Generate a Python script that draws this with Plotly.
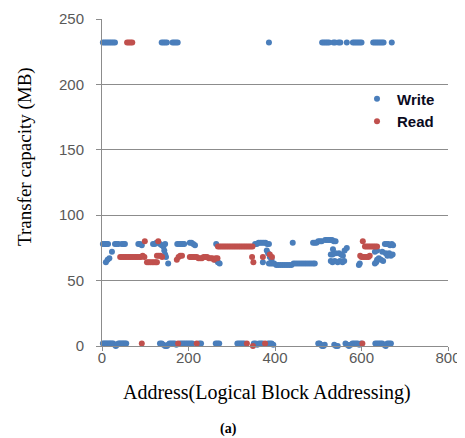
import plotly.graph_objects as go

# ---- data ----
write_top = [(2,232),(6,232),(10,232),(14,232),(18,232),(22,232),(26,232),(30,232),
             (138,232),(142,232),(146,232),(150,232),
             (163,232),(167,232),(171,232),(175,232),
             (386,232),
             (509,232),(513,232),(517,232),(521,232),(525,232),
             (535,232),(539,232),(547,232),(551,232),
             (566,232),
             (580,232),(584,232),(588,232),(592,232),(596,232),(600,232),
             (627,232),(631,232),(635,232),(639,232),(643,232),(647,232),(651,232),
             (670,232)]

write_mid = [(2,78),(5,78),(8,78),(11,78),(14,78),
             (30,78),(34,78),(38,78),(46,78),(50,78),(53,78),
             (84,78),(88,78),(92,77),
             (118,78),(122,78),(126,79),(134,78),(138,77),(142,76),(146,78),
             (144,73),(146,70),(148,68),
             (174,78),(178,78),(182,78),(186,78),(190,78),
             (203,79),(207,79),(211,78),(215,77),
             (264,78),(262,66),(268,64),(272,63),
             (354,78),(358,78),(362,79),(366,79),(370,79),(374,79),(378,79),(382,78),(386,78),
             (381,73),(384,71),(388,68),(392,66),
             (23,72),(9,64),(13,66),(17,67),
             (153,63),
             (372,64),(386,63),(390,63),(394,63),
             (398,63),(403,62),(408,62),(413,62),(418,62),(423,62),(428,62),(433,62),
             (438,62),(443,63),(448,63),(453,63),(458,63),(463,63),(468,63),(473,63),
             (478,63),(483,63),(488,63),(492,63),
             (441,79),
             (488,79),(492,79),(496,79),(500,80),(504,80),(508,80),
             (516,81),(520,81),(524,81),(528,81),(532,81),(536,80),(540,80),
             (529,70),(533,70),(540,71),(548,71),(553,70),(557,69),
             (529,65),(533,64),(538,65),(545,64),(550,65),(556,64),(560,65),
             (534,74),(561,73),(566,75),
             (596,63),(594,62),
             (654,78),(658,78),(662,78),(666,77),(670,78),(673,77),
             (631,72),(636,73),(648,72),(656,71),(664,71),(668,69),(672,70),(660,69),
             (636,66),(640,67),(645,66),(650,65),(631,63),(634,64)]

write_low = [(2,2),(5,2),(8,2),(11,2),(14,2),(17,2),(20,2),(23,2),(26,2),(29,1),(32,0),
             (35,1),(38,2),(41,2),(44,2),(47,2),(50,2),(53,2),(56,2),
             (134,2),(138,2),(142,1),(146,0),(150,0),(153,1),(156,2),(160,2),(164,2),
             (168,2),(172,1),(181,2),(185,2),(189,2),(193,2),(197,2),(201,2),(205,2),
             (209,2),(225,2),(229,2),
             (263,2),(267,2),(271,2),
             (313,2),(317,2),(321,2),(325,2),(329,2),
             (351,2),(355,2),(359,1),(363,2),(367,2),(371,2),
             (384,2),(388,2),(392,2),(396,1),(400,-1),
             (500,2),(503,2),(506,1),(509,0),(512,0),(515,1),
             (537,1),(541,0),(545,0),(550,-1),(554,-1),
             (563,2),(567,1),(571,0),(575,1),(579,2),(583,2),(587,2),(591,2),(595,1),(599,2),
             (632,2),(636,2),(640,2),(644,2),(648,2),(652,1),(656,0),(660,2),(664,2),(668,2)]

read_top = [(58,232),(62,232),(66,232),(70,232)]

read_mid = [(42,68),(46,68),(50,68),(54,68),(58,68),(62,68),(66,68),(70,68),(74,68),
            (78,68),(82,68),(86,68),(90,68),(94,69),(98,68),
            (99,80),(130,80),
            (104,64),(108,64),(112,64),(116,64),(120,64),(124,64),(127,64),
            (127,69),(131,69),(135,69),(139,68),
            (173,66),(177,68),(181,69),(185,69),
            (203,68),(207,68),(211,68),(215,68),(219,68),(223,67),(227,67),(231,67),
            (235,68),(239,68),(243,68),(247,67),(251,67),(255,67),(259,66),(263,67),(267,67),
            (268,76),(272,76),(276,76),(280,76),(284,76),(288,76),(292,76),(296,76),
            (300,76),(304,76),(308,76),(312,76),(316,76),(320,76),(324,76),(328,76),
            (332,76),(336,76),(340,76),(344,76),(348,76),
            (347,68),(350,64),(372,68),(393,68),(388,70),
            (603,80),(608,76),(612,76),(616,76),(620,76),(624,76),(628,76),(632,76),(636,76),
            (597,69),(600,68),(604,68),(608,68),(612,68),(616,68),(619,69)]

read_low = [(92,2),(176,2),(219,2),(335,2),(349,0),(377,2),(602,2)]

x_ticks = [0, 200, 400, 600, 800]
y_ticks = [0, 50, 100, 150, 200, 250]

write_pts = write_top + write_mid + write_low
read_pts = read_top + read_mid + read_low

fig = go.Figure()
fig.add_trace(go.Scatter(
    x=[p[0] for p in write_pts], y=[p[1] for p in write_pts],
    mode="markers", name="<b>Write</b>", cliponaxis=False,
    marker=dict(color="#4A7EBB", size=6, line=dict(width=0))))
fig.add_trace(go.Scatter(
    x=[p[0] for p in read_pts], y=[p[1] for p in read_pts],
    mode="markers", name="<b>Read</b>", cliponaxis=False,
    marker=dict(color="#C0504D", size=6, line=dict(width=0))))

tick_font = dict(family="Liberation Sans, Arial, sans-serif", size=15, color="#595959")
serif = "Liberation Serif, Times New Roman, serif"

# page body has an 8px margin, so the figure is 8px smaller than the window
fig.update_layout(
    width=457, height=430,
    margin=dict(l=94, r=17, t=11, b=92),
    paper_bgcolor="white", plot_bgcolor="white",
    showlegend=True,
    legend=dict(x=0.737, y=0.806, xanchor="left", yanchor="top",
                bgcolor="rgba(0,0,0,0)",
                font=dict(family="Liberation Sans, Arial, sans-serif", size=15, color="#0a0a1e"),
                itemwidth=30, tracegroupgap=0),
    xaxis=dict(range=[0, 800], tickvals=x_ticks, ticktext=[str(v) for v in x_ticks],
               automargin=False,
               showgrid=False, zeroline=False,
               showline=True, linecolor="#8C8C8C", linewidth=1,
               ticks="outside", ticklen=4, tickcolor="#8C8C8C",
               ticklabelstandoff=-6,
               tickfont=tick_font),
    yaxis=dict(range=[0, 250], tickvals=y_ticks, ticktext=[str(v) for v in y_ticks],
               automargin=False,
               showgrid=True, gridcolor="#8C8C8C", gridwidth=1, zeroline=False,
               showline=True, linecolor="#8C8C8C", linewidth=1,
               ticks="outside", ticklen=5, tickcolor="#8C8C8C",
               ticklabelstandoff=9,
               tickfont=tick_font),
    annotations=[
        dict(text="Address(Logical Block Addressing)", xref="paper", yref="paper",
             x=0.477, y=-0.141, xanchor="center", yanchor="middle", showarrow=False,
             font=dict(family=serif, size=20, color="#000000")),
        dict(text="<b>(a)</b>", xref="paper", yref="paper",
             x=0.367, y=-0.254, xanchor="center", yanchor="middle", showarrow=False,
             font=dict(family=serif, size=14, color="#000000")),
        dict(text="Transfer capacity (MB)", xref="paper", yref="paper",
             x=-0.2225, y=0.578, xanchor="center", yanchor="middle", showarrow=False,
             textangle=-90, font=dict(family=serif, size=19, color="#000000")),
    ],
)

fig.write_html("out.html")
